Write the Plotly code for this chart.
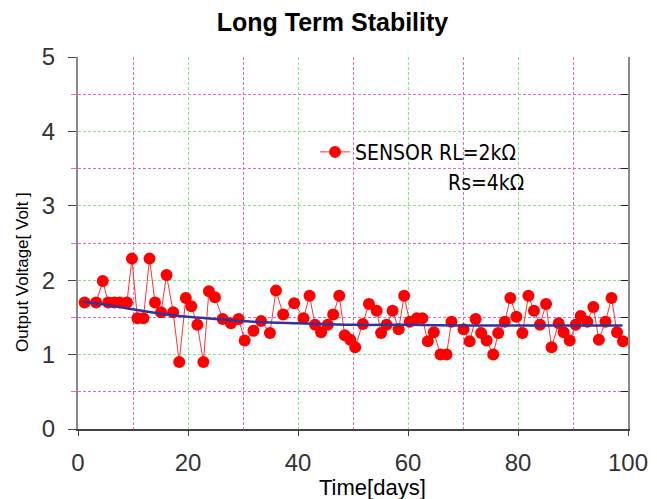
import plotly.graph_objects as go

# ---- data ----
days = [1.2, 3.3, 4.5, 5.5, 6.6, 7.6, 8.9, 9.8, 10.8, 11.9,
        13.0, 14.0, 15.1, 16.1, 17.3, 18.4, 19.6, 20.6, 21.7, 22.8,
        23.8, 24.9, 26.3, 27.8, 29.2, 30.3, 31.9, 33.3, 34.9, 36.0,
        37.3, 39.3, 41.0, 42.1, 43.1, 44.2, 45.4, 46.4, 47.5, 48.5,
        49.5, 50.4, 51.8, 52.9, 54.3, 55.1, 56.1, 57.2, 58.3, 59.3,
        60.3, 61.6, 62.6, 63.6, 64.7, 65.9, 67.0, 67.9, 70.1, 71.2,
        72.3, 73.3, 74.3, 75.5, 76.4, 77.6, 78.6, 79.7, 80.8, 81.9,
        82.9, 84.0, 85.1, 86.1, 87.4, 88.3, 89.4, 90.5, 91.4, 92.6,
        93.7, 94.7, 95.9, 97.0, 98.0, 99.1]
voltage = [1.70, 1.70, 1.99, 1.70, 1.70, 1.70, 1.70, 2.29, 1.49, 1.49,
           2.29, 1.70, 1.57, 2.07, 1.57, 0.90, 1.76, 1.65, 1.40, 0.90,
           1.85, 1.77, 1.48, 1.42, 1.48, 1.19, 1.32, 1.45, 1.29, 1.86,
           1.54, 1.69, 1.49, 1.79, 1.40, 1.30, 1.40, 1.54, 1.79, 1.26,
           1.20, 1.10, 1.41, 1.68, 1.59, 1.29, 1.40, 1.59, 1.34, 1.79,
           1.44, 1.49, 1.49, 1.18, 1.30, 1.00, 1.00, 1.44, 1.34, 1.18,
           1.48, 1.29, 1.19, 1.00, 1.29, 1.44, 1.76, 1.51, 1.29, 1.79,
           1.59, 1.40, 1.68, 1.10, 1.42, 1.30, 1.19, 1.40, 1.52, 1.44,
           1.64, 1.20, 1.44, 1.76, 1.30, 1.18]

trend_days = [1, 5, 10, 15, 20, 25, 30, 35, 40, 50, 60, 70, 80, 90, 99]
trend_volt = [1.71, 1.67, 1.61, 1.55, 1.51, 1.48, 1.45, 1.43, 1.42, 1.40,
              1.40, 1.39, 1.39, 1.39, 1.39]

series_name = "SENSOR RL=2kΩ"
series_note = "Rs=4kΩ"
title_text = "Long Term Stability"
x_title = "Time[days]"
y_title = "Output Voltage[ Volt ]"

GREEN = "#80e880"
MAGENTA = "#e466c8"
LEGEND_FONT = "DejaVu Sans Condensed, Liberation Sans Narrow, DejaVu Sans"

fig = go.Figure()
fig.add_trace(go.Scatter(
    x=days, y=voltage, mode="lines+markers", name=series_name,
    line=dict(color="#ff3333", width=1),
    marker=dict(color="#ff0000", size=12, symbol="circle"),
))
fig.add_trace(go.Scatter(
    x=trend_days, y=trend_volt, mode="lines", showlegend=False,
    line=dict(color="#333399", width=2.5, shape="spline"),
))
# empty trace on a secondary y axis for the right-side inside ticks
fig.add_trace(go.Scatter(x=[None], y=[None], yaxis="y2", showlegend=False,
                         hoverinfo="skip"))

# the page body adds an 8px offset, so the figure is 8px smaller
fig.update_layout(
    width=649, height=491,
    margin=dict(l=70, r=29, t=49, b=70, autoexpand=False),
    paper_bgcolor="white", plot_bgcolor="white",
    title=dict(text=title_text, x=0.5, xanchor="center", y=0.97, yanchor="middle",
               font=dict(family="Liberation Sans, Arial", size=25, color="black",
                         weight="bold")),
    font=dict(family="Liberation Sans, Arial", color="#333333"),
    showlegend=True,
    legend=dict(x=0.431, xanchor="left", y=0.744, yanchor="middle",
                bgcolor="rgba(0,0,0,0)",
                font=dict(family=LEGEND_FONT, size=21, color="black")),
    xaxis=dict(
        range=[0, 100], dtick=20, tick0=0, automargin=False,
        showgrid=True, gridcolor=GREEN, griddash="3px,2px", gridwidth=1,
        minor=dict(dtick=10, showgrid=True, gridcolor=MAGENTA, griddash="3px,2px",
                   gridwidth=1, ticks=""),
        zeroline=False,
        showline=True, linecolor="#444444", linewidth=1.5,
        ticks="outside", ticklen=5, tickcolor="#444444",
        ticklabelstandoff=6,
        tickfont=dict(size=24, color="#333333"),
    ),
    yaxis=dict(
        range=[0, 5], dtick=1, tick0=0, automargin=False,
        showgrid=True, gridcolor=GREEN, griddash="3px,2px", gridwidth=1,
        minor=dict(dtick=0.5, showgrid=True, gridcolor=MAGENTA, griddash="3px,2px",
                   gridwidth=1, ticks="outside", ticklen=5, tickcolor=MAGENTA),
        zeroline=False,
        showline=True, linecolor="#888888", linewidth=2,
        ticks="outside", ticklen=8, tickcolor="#444444",
        ticklabelstandoff=8,
        tickfont=dict(size=24, color="#333333"),
    ),
    yaxis2=dict(
        overlaying="y", side="right", range=[0, 5], dtick=0.5, tick0=0,
        automargin=False,
        showgrid=False, zeroline=False, showticklabels=False,
        showline=True, linecolor="#888888", linewidth=2,
        ticks="inside", ticklen=7, tickcolor="#222222",
    ),
    annotations=[
        dict(text=series_note, xref="paper", yref="paper", x=0.814, y=0.662,
             xanchor="right", yanchor="middle", showarrow=False,
             font=dict(family=LEGEND_FONT, size=21, color="black")),
        # axis titles (placed off-centre as in the reference)
        dict(text=x_title, xref="paper", yref="paper", x=0.535, y=-0.156,
             xanchor="center", yanchor="middle", showarrow=False,
             font=dict(family="Liberation Sans, Arial", size=22, color="black")),
        dict(text=y_title, xref="paper", yref="paper", x=-0.102, y=0.422,
             xanchor="center", yanchor="middle", showarrow=False, textangle=-90,
             font=dict(family="Liberation Sans, Arial", size=17, color="black")),
    ],
)

fig.write_html("out.html")
